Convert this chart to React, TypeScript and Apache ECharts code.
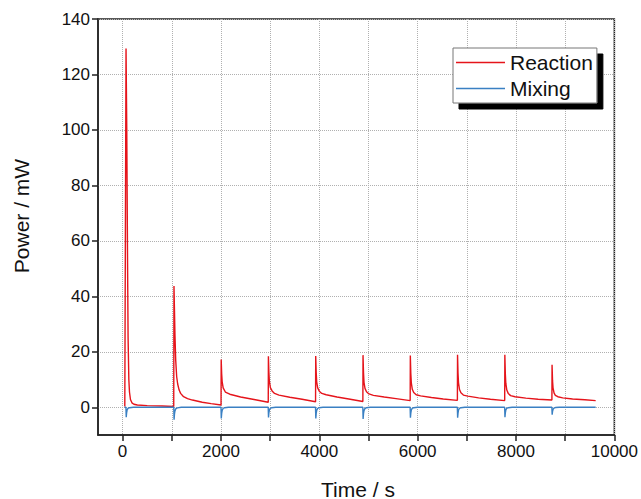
import { useEffect, useRef } from "react";
import * as echarts from "echarts";

const xTickValues = [0, 1000, 2000, 3000, 4000, 5000, 6000, 7000, 8000, 9000, 10000];
const xLabelValues = [0, 2000, 4000, 6000, 8000, 10000];
const yTickValues = [0, 20, 40, 60, 80, 100, 120, 140];

const reactionData: [number, number][] = [
  [45, 0.3], [70, 129.4], [85, 100], [100, 55], [112, 25], [127, 10], [140, 5.5], [160, 2.8], [190, 1.6], [230, 1.1], [300, 0.8], [500, 0.6], [800, 0.45], [1040, 0.3],
  [1045, 43.7], [1055, 35], [1065, 26], [1080, 17], [1100, 11], [1120, 8.4], [1150, 6.2], [1180, 5], [1240, 3.8], [1320, 3.1], [1420, 2.6], [1620, 1.8], [1800, 1.3], [2002, 0.8],
  [2005, 17.2], [2015, 12], [2025, 9.2], [2045, 7], [2090, 5.5], [2180, 4.7], [2400, 3.7], [2700, 2.7], [2962, 1.8],
  [2965, 18.4], [2975, 12.5], [2985, 9.3], [3005, 7.1], [3040, 5.9], [3090, 5], [3180, 4.4], [3400, 3.6], [3650, 2.9], [3924, 2.0],
  [3927, 18.5], [3937, 12.5], [3947, 9.2], [3967, 7], [4000, 5.8], [4050, 5], [4140, 4.5], [4360, 3.7], [4600, 3], [4886, 2.1],
  [4889, 18.8], [4899, 12.4], [4909, 9], [4929, 6.8], [4960, 5.6], [5010, 4.8], [5100, 4.3], [5320, 3.7], [5560, 3.1], [5848, 2.4],
  [5851, 18.7], [5861, 12.2], [5871, 8.8], [5891, 6.5], [5920, 5.3], [5970, 4.5], [6060, 4.1], [6280, 3.5], [6520, 3.0], [6808, 2.5],
  [6811, 18.9], [6821, 12.2], [6831, 8.8], [6851, 6.4], [6880, 5.2], [6930, 4.4], [7020, 4.0], [7240, 3.4], [7480, 2.9], [7770, 2.4],
  [7773, 18.9], [7783, 12], [7793, 8.6], [7813, 6.2], [7842, 5], [7890, 4.2], [7980, 3.8], [8200, 3.3], [8450, 2.9], [8730, 2.6],
  [8733, 15.3], [8743, 9.5], [8753, 7], [8773, 5.2], [8800, 4.3], [8850, 3.8], [8950, 3.4], [9150, 3.0], [9400, 2.7], [9620, 2.4],
];

const mixingData: [number, number][] = [
  [40, 0], [68, 0], [74, -3.6], [82, -2.0], [92, -1.0], [110, -0.4], [140, -0.15], [220, 0],
  [1041, 0], [1047, -4.5], [1055, -2.5], [1065, -1.3], [1083, -0.5], [1113, -0.2], [1193, 0],
  [2001, 0], [2007, -4.0], [2015, -2.2], [2025, -1.1], [2043, -0.45], [2073, -0.15], [2153, 0],
  [2961, 0], [2967, -3.7], [2975, -2.0], [2985, -1.0], [3003, -0.4], [3033, -0.15], [3113, 0],
  [3923, 0], [3929, -4.0], [3937, -2.2], [3947, -1.1], [3965, -0.45], [3995, -0.15], [4075, 0],
  [4885, 0], [4891, -4.2], [4899, -2.3], [4909, -1.2], [4927, -0.5], [4957, -0.15], [5037, 0],
  [5847, 0], [5853, -3.8], [5861, -2.1], [5871, -1.0], [5889, -0.4], [5919, -0.15], [5999, 0],
  [6807, 0], [6813, -3.8], [6821, -2.1], [6831, -1.0], [6849, -0.4], [6879, -0.15], [6959, 0],
  [7769, 0], [7775, -3.6], [7783, -2.0], [7793, -1.0], [7811, -0.4], [7841, -0.15], [7921, 0],
  [8729, 0], [8735, -2.7], [8743, -1.5], [8753, -0.8], [8771, -0.3], [8801, -0.1], [8881, 0],
  [9620, 0],
];

const RED = "#e5141b";
const BLUE = "#3a80c3";
const FONT = "'Liberation Sans', Arial, sans-serif";
const LINE_ICON = "path://M0,0L49,0L49,1.6L0,1.6Z";

export default function App() {
  const ref = useRef<HTMLDivElement>(null);
  useEffect(() => {
    const chart = echarts.init(ref.current!, null, { renderer: "svg" });
    const axisCommon = {
      type: "value" as const,
      axisLine: { show: true, onZero: false, lineStyle: { color: "#222", width: 1.5 } },
      splitLine: { show: true, lineStyle: { type: "dotted" as const, color: "#b0b0b0", width: 1 } },
    };
    chart.setOption({
      animation: false,
      textStyle: { fontFamily: FONT },
      grid: {
        left: 98, right: 26, top: 19, bottom: 64,
        show: true, borderColor: "#222", borderWidth: 1.5, backgroundColor: "transparent",
      },
      xAxis: {
        ...axisCommon,
        min: -500, max: 10000,
        axisTick: { show: true, customValues: xTickValues, length: 6, lineStyle: { color: "#222", width: 1.5 } },
        axisLabel: {
          customValues: xLabelValues, fontSize: 17, color: "#111", margin: 8, fontFamily: FONT,
          formatter: (v: number) => String(v),
        },
      },
      yAxis: {
        ...axisCommon,
        min: -10, max: 140,
        axisTick: { show: true, customValues: yTickValues, length: 6, lineStyle: { color: "#222", width: 1.5 } },
        axisLabel: {
          customValues: yTickValues, fontSize: 17, color: "#111", margin: 8, fontFamily: FONT,
          formatter: (v: number) => String(v),
        },
      },
      legend: {
        orient: "vertical", left: 453, top: 48,
        itemWidth: 49, itemHeight: 21, itemGap: 5,
        padding: [4, 4, 4, 3],
        backgroundColor: "#fff", borderColor: "#777", borderWidth: 1,
        shadowColor: "#000", shadowOffsetX: 6, shadowOffsetY: 6, shadowBlur: 0,
        textStyle: { fontSize: 21, color: "#111", fontFamily: FONT },
        data: [
          { name: "Reaction", icon: LINE_ICON },
          { name: "Mixing", icon: LINE_ICON },
        ],
      },
      graphic: [
        {
          type: "text", x: 358, y: 489,
          style: { text: "Time / s", fontSize: 21, fontFamily: FONT, fill: "#111", align: "center", verticalAlign: "middle" },
        },
        {
          type: "text", x: 21, y: 216, rotation: Math.PI / 2,
          style: { text: "Power / mW", fontSize: 21, fontFamily: FONT, fill: "#111", align: "center", verticalAlign: "middle" },
        },
      ],
      series: [
        {
          name: "Reaction", type: "line", data: reactionData, symbol: "none", showSymbol: false,
          lineStyle: { color: RED, width: 1.4 }, itemStyle: { color: RED }, z: 2,
        },
        {
          name: "Mixing", type: "line", data: mixingData, symbol: "none", showSymbol: false,
          lineStyle: { color: BLUE, width: 1.4 }, itemStyle: { color: BLUE }, z: 3,
        },
      ],
    });
    return () => chart.dispose();
  }, []);
  return <div ref={ref} style={{ position: "absolute", left: 0, top: 0, width: 641, height: 499 }} />;
}
